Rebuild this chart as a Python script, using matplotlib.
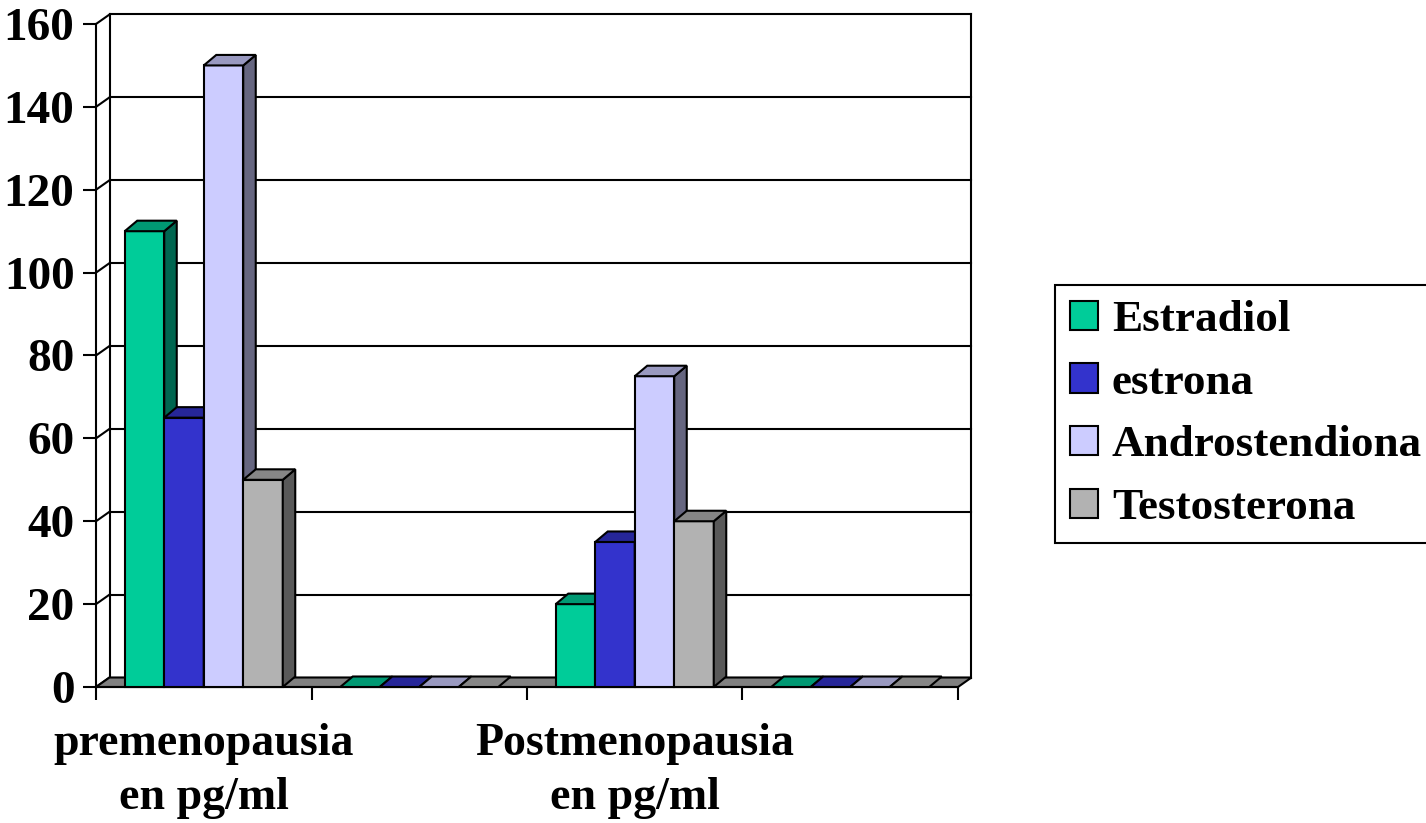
import numpy as np
import matplotlib.pyplot as plt
from matplotlib.patches import Polygon, Patch
plt.switch_backend('agg')

categories = ["premenopausia\nen pg/ml", "", "Postmenopausia\nen pg/ml", ""]
series = ["Estradiol", "estrona", "Androstendiona", "Testosterona"]
estradiol = [110, 0, 20, 0]
estrona = [65, 0, 35, 0]
androstendiona = [150, 0, 75, 0]
testosterona = [50, 0, 40, 0]
values = [estradiol, estrona, androstendiona, testosterona]
yticks = [0, 20, 40, 60, 80, 100, 120, 140, 160]

front = ["#00CC99", "#3333CC", "#CCCCFF", "#B2B2B2"]
top = ["#009973", "#262699", "#9999C0", "#868686"]
side = ["#006650", "#1A1A66", "#666680", "#595959"]

plt.rcParams['font.family'] = ['Liberation Serif', 'DejaVu Serif']
plt.rcParams['font.weight'] = 'bold'

W, H = 1426, 823
fig = plt.figure(figsize=(W / 100, H / 100), dpi=100)
ax = fig.add_axes([96 / W, (H - 687) / H, 862 / W, 663 / H])
ax.set_xlim(0, len(categories))
ax.set_ylim(0, 160)

# depth offsets (pixels -> data units)
pxx = 862 / len(categories)
pxy = 663 / 160
wdx, wdy = 13.5 / pxx, 9.5 / pxy
bdx, bdy = 12.5 / pxx, 10.5 / pxy
n = len(categories)

# back wall, side wall, floor
for v in yticks:
    ax.plot([wdx, n + wdx], [v + wdy, v + wdy], color='black', lw=1.5,
            clip_on=False, zorder=1)
    ax.plot([0, wdx], [v, v + wdy], color='black', lw=1.5, clip_on=False, zorder=1)
ax.plot([wdx, wdx], [wdy, 160 + wdy], color='black', lw=1.5, clip_on=False, zorder=1)
ax.plot([n + wdx, n + wdx], [wdy, 160 + wdy], color='black', lw=1.5,
        clip_on=False, zorder=1)
ax.add_patch(Polygon([(0, 0), (n, 0), (n + wdx, wdy), (wdx, wdy)], closed=True,
                     facecolor='#808080', edgecolor='black', lw=1.5,
                     clip_on=False, zorder=1.5))

# bars, drawn left to right so each front face hides the previous side face
w = 0.1833
x = np.arange(n)
k = 0
for c in range(n):
    for i in range(len(series)):
        v = values[i][c]
        x0 = c + 0.5 + (i - 2) * w
        x1 = x0 + w
        z = 3 + k * 0.01
        k += 1
        if v > 0:
            ax.bar(x0, v, width=w, align='edge', color=front[i], edgecolor='black',
                   lw=1.5, zorder=z, clip_on=False)
            ax.add_patch(Polygon([(x1, 0), (x1 + bdx, bdy), (x1 + bdx, v + bdy), (x1, v)],
                                 closed=True, facecolor=side[i], edgecolor='black',
                                 lw=1.5, zorder=z, clip_on=False))
        ax.add_patch(Polygon([(x0, v), (x1, v), (x1 + bdx, v + bdy), (x0 + bdx, v + bdy)],
                             closed=True, facecolor=top[i], edgecolor='black',
                             lw=1.5, zorder=z, clip_on=False))

for s in ['top', 'right']:
    ax.spines[s].set_visible(False)
ax.spines['left'].set_linewidth(1.5)
ax.spines['bottom'].set_linewidth(1.5)
ax.spines['left'].set_zorder(2)
ax.spines['bottom'].set_zorder(2)

ax.set_yticks(yticks)
ax.set_yticklabels([str(t) for t in yticks], fontsize=34, fontweight='bold',
                   va='center_baseline')
ax.tick_params(axis='y', length=9.5, width=1.5, pad=6)
ax.set_xticks(np.arange(n + 1))
ax.set_xticklabels([])
ax.tick_params(axis='x', which='major', length=9, width=1.5)
ax.set_xticks(x + 0.5, minor=True)
ax.set_xticklabels(categories, minor=True, fontsize=33, fontweight='bold',
                   linespacing=1.38)
ax.tick_params(axis='x', which='minor', length=0, pad=26)
ax.patch.set_visible(False)

handles = [Patch(facecolor=front[i], edgecolor='black', lw=1.5) for i in range(len(series))]
leg = fig.legend(handles, series, loc='upper left',
                 bbox_to_anchor=(1055 / W, 1 - 285 / H), borderaxespad=0,
                 prop={'family': 'Liberation Serif', 'weight': 'bold', 'size': 32.5},
                 handlelength=0.62, handleheight=0.62, handletextpad=0.3,
                 labelspacing=0.5, borderpad=0.34, fancybox=False, framealpha=1)
leg.get_frame().set_edgecolor('black')
leg.get_frame().set_linewidth(1.5)

fig.savefig("out.png", dpi=100)
